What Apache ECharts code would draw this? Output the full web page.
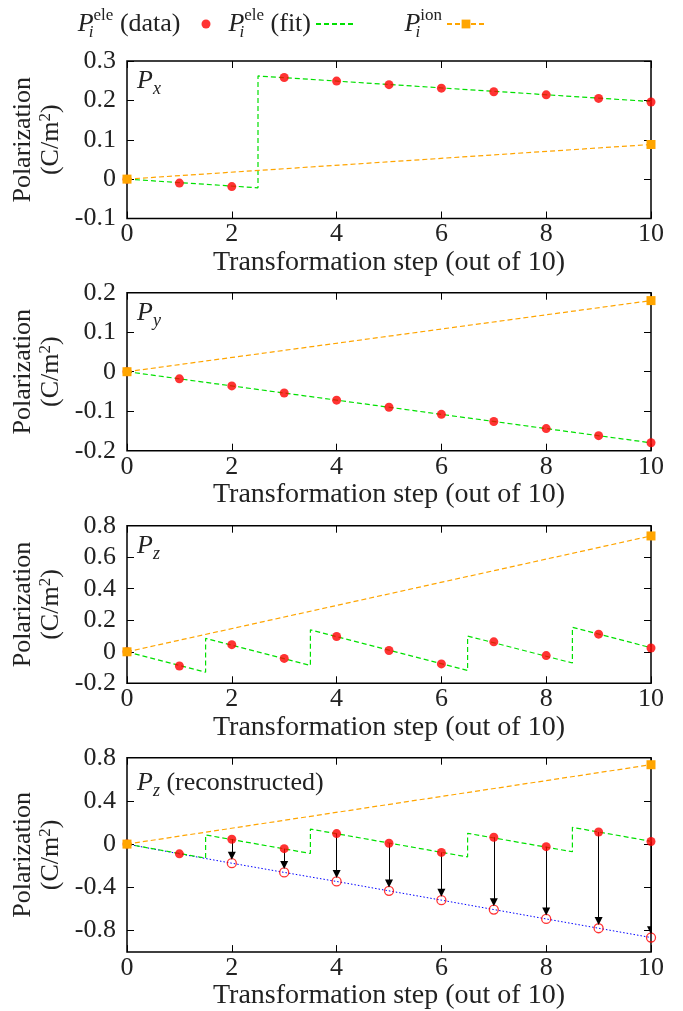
<!DOCTYPE html>
<html><head><meta charset="utf-8">
<script src="https://cdn.jsdelivr.net/npm/echarts@6/dist/echarts.min.js"></script>
<style>html,body{margin:0;padding:0;background:#fff}#c{width:683px;height:1011px}</style>
</head><body><div id="c"></div>
<script>
// ---------------- data ----------------
const steps = [0, 1, 2, 3, 4, 5, 6, 7, 8, 9, 10];
const xTickLabels = ['0', '2', '4', '6', '8', '10'];
const ionSteps = [0, 10];

// Panel 1 : P_x
const pxEle = [0, -0.010, -0.019, 0.258, 0.249, 0.240, 0.231, 0.222, 0.214, 0.205, 0.196];
const pxFitX = [0, 2.5, 2.5, 10];
const pxFitY = [0, -0.022, 0.262, 0.197];
const pxIon = [0, 0.088];

// Panel 2 : P_y
const pyEle = [0, -0.018, -0.036, -0.054, -0.072, -0.090, -0.108, -0.126, -0.144, -0.162, -0.180];
const pyFitX = [0, 10];
const pyFitY = [0, -0.180];
const pyIon = [0, 0.180];

// Panel 3/4 : P_z
const pzEle = [0, -0.090, 0.045, -0.042, 0.097, 0.008, -0.077, 0.063, -0.024, 0.112, 0.024];
const pzFitX = [0, 1.5, 1.5, 3.5, 3.5, 6.5, 6.5, 8.5, 8.5, 10];
const pzFitY = [0, -0.130, 0.085, -0.087, 0.139, -0.119, 0.100, -0.071, 0.155, 0.026];
const pzIon = [0, 0.735];
// Panel 4 : reconstructed
const pzRecon = [0, -0.090, -0.177, -0.262, -0.346, -0.433, -0.519, -0.606, -0.693, -0.779, -0.865];
const arrowSteps = [2, 3, 4, 5, 6, 7, 8, 9, 10];

// y tick labels
const yTicks1 = ['0.3', '0.2', '0.1', '0', '-0.1'];
const yTicks2 = ['0.2', '0.1', '0', '-0.1', '-0.2'];
const yTicks3 = ['0.8', '0.6', '0.4', '0.2', '0', '-0.2'];
const yTicks4 = ['0.8', '0.4', '0', '-0.4', '-0.8'];

// ---------------- style ----------------
const F = 'Liberation Serif';
const TXT = '#222';
const RED = '#ff0000';
const GREEN = '#00e000';
const ORANGE = '#ffa500';
const BLUE = '#0000ff';

const richBase = {
  P: { fontFamily: F, fontStyle: 'italic', fontWeight: 'normal', fontSize: 26, lineHeight: 34, color: TXT },
  sub: { fontFamily: F, fontStyle: 'italic', fontWeight: 'normal', fontSize: 18, lineHeight: 20, verticalAlign: 'bottom', color: TXT },
  si: { fontFamily: F, fontStyle: 'italic', fontWeight: 'normal', fontSize: 17, lineHeight: 17, verticalAlign: 'bottom', width: 0, color: TXT },
  sp: { fontFamily: F, fontWeight: 'normal', fontSize: 17, lineHeight: 19, verticalAlign: 'top', color: TXT },
  t: { fontFamily: F, fontWeight: 'normal', fontSize: 26, lineHeight: 34, color: TXT },
  g: { fontFamily: F, fontWeight: 'normal', fontSize: 26, lineHeight: 34, width: 16, color: TXT }
};

const panels = [
  { top: 61, height: 157.5, min: -0.1, max: 0.3, ticks: yTicks1, label: '{P|P}{sub|x}' },
  { top: 292.7, height: 158, min: -0.2, max: 0.2, ticks: yTicks2, label: '{P|P}{sub|y}' },
  { top: 525.7, height: 157.6, min: -0.2, max: 0.8, ticks: yTicks3, label: '{P|P}{sub|z}' },
  { top: 757.7, height: 200, min: -1.0, max: 0.8, ticks: yTicks4, label: '{P|P}{sub|z}{t| (reconstructed)}' }
];

const grids = [], xAxes = [], yAxes = [], titles = [];
const xVals = xTickLabels.map(Number);
panels.forEach((p, gi) => {
  grids.push({ left: 127, right: 32, top: p.top, height: p.height, show: true,
    borderColor: '#000', borderWidth: 1.5, backgroundColor: 'transparent' });
  const yVals = p.ticks.map(Number);
  const tick = { show: true, inside: true, length: 7, lineStyle: { color: '#000', width: 1 } };
  const line = { show: false, onZero: false };
  xAxes.push({ gridIndex: gi, type: 'value', min: 0, max: 10, position: 'bottom',
    axisLine: line, splitLine: { show: false },
    axisTick: Object.assign({ customValues: xVals }, tick),
    axisLabel: { customValues: xVals, margin: 3, fontFamily: F, fontSize: 26, color: TXT },
    name: 'Transformation step (out of 10)', nameLocation: 'middle', nameGap: 25,
    nameTextStyle: { fontFamily: F, fontSize: 28, color: TXT } });
  xAxes.push({ gridIndex: gi, type: 'value', min: 0, max: 10, position: 'top',
    axisLine: line, splitLine: { show: false },
    axisTick: Object.assign({ customValues: xVals }, tick),
    axisLabel: { show: false } });
  yAxes.push({ gridIndex: gi, type: 'value', min: p.min, max: p.max, position: 'left',
    axisLine: line, splitLine: { show: false },
    axisTick: Object.assign({ customValues: yVals }, tick),
    axisLabel: { customValues: yVals, margin: 11, fontFamily: F, fontSize: 26, color: TXT,
      formatter: v => p.ticks[yVals.indexOf(v)] !== undefined ? p.ticks[yVals.indexOf(v)] : String(v) },
    name: '{t|Polarization}\n{t|(C/m}{sp|2}{t|)}', nameLocation: 'middle', nameGap: 60, nameRotate: 90,
    nameTextStyle: { fontFamily: F, fontSize: 26, color: TXT,
      rich: { t: { fontFamily: F, fontSize: 26, lineHeight: 28, color: TXT },
              sp: { fontFamily: F, fontSize: 17, lineHeight: 15, verticalAlign: 'top', color: TXT } } } });
  yAxes.push({ gridIndex: gi, type: 'value', min: p.min, max: p.max, position: 'right',
    axisLine: line, splitLine: { show: false },
    axisTick: Object.assign({ customValues: yVals }, tick),
    axisLabel: { show: false } });
  titles.push({ text: p.label, left: 137, top: p.top + 0.123 * p.height - 16.3, padding: 0,
    textStyle: { fontWeight: 'normal', rich: richBase } });
});

const pairs = (xs, ys) => xs.map((x, k) => [x, ys[k]]);
function fitSeries(gi, xs, ys) {
  return { type: 'line', name: 'fit', xAxisIndex: 2 * gi, yAxisIndex: 2 * gi, data: pairs(xs, ys),
    symbol: 'none', clip: false, lineStyle: { color: GREEN, width: 1.2, type: [5, 3] },
    itemStyle: { color: GREEN }, z: 3 };
}
function dataSeries(gi, ys) {
  return { type: 'scatter', name: 'data', xAxisIndex: 2 * gi, yAxisIndex: 2 * gi, data: pairs(steps, ys),
    symbol: 'circle', symbolSize: 9, clip: false, itemStyle: { color: RED }, z: 5 };
}
function ionSeries(gi, ys) {
  return { type: 'line', name: 'ion', xAxisIndex: 2 * gi, yAxisIndex: 2 * gi, data: pairs(ionSteps, ys),
    symbol: 'rect', symbolSize: 9, showAllSymbol: true, clip: false,
    lineStyle: { color: ORANGE, width: 1.2, type: [5, 3] }, itemStyle: { color: ORANGE }, z: 6 };
}

const ARROW_BACK = 0.068; // arrow head centre sits just above the open circle
const series = [
  fitSeries(0, pxFitX, pxFitY), dataSeries(0, pxEle), ionSeries(0, pxIon),
  fitSeries(1, pyFitX, pyFitY), dataSeries(1, pyEle), ionSeries(1, pyIon),
  fitSeries(2, pzFitX, pzFitY), dataSeries(2, pzEle), ionSeries(2, pzIon),
  { type: 'line', name: 'recon line', xAxisIndex: 6, yAxisIndex: 6, data: pairs(steps, pzRecon),
    symbol: 'none', clip: false, lineStyle: { color: BLUE, width: 1, type: [1.5, 2] }, z: 2 },
  { type: 'scatter', name: 'recon', xAxisIndex: 6, yAxisIndex: 6,
    data: arrowSteps.map(s => [s, pzRecon[s]]), symbol: 'circle', symbolSize: 9, clip: false,
    itemStyle: { color: 'rgba(255,255,255,0)', borderColor: RED, borderWidth: 1.3 }, z: 3 },
  fitSeries(3, pzFitX, pzFitY),
  { type: 'lines', coordinateSystem: 'cartesian2d', xAxisIndex: 6, yAxisIndex: 6,
    data: arrowSteps.map(s => ({ coords: [[s, pzEle[s]], [s, pzRecon[s] + ARROW_BACK]] })),
    symbol: ['none', 'triangle'], symbolSize: [0, 8],
    lineStyle: { color: '#000', width: 1, opacity: 1 }, z: 4 },
  dataSeries(3, pzEle), ionSeries(3, pzIon)
];

const legendCommon = { top: 7, padding: 0, align: 'right', itemGap: 0, selectedMode: false,
  textStyle: { fontFamily: F, fontSize: 26, color: TXT, rich: richBase } };
const legends = [
  Object.assign({}, legendCommon, { data: ['data'], right: 472.5, itemWidth: 9, itemHeight: 9,
    formatter: () => '{P|P}{si|i}{sp|ele}{t| (data)}{g| }' }),
  Object.assign({}, legendCommon, { data: ['fit'], right: 328, itemWidth: 38, itemHeight: 11,
    itemStyle: { color: 'rgba(0,0,0,0)', borderWidth: 0, opacity: 0 },
    formatter: () => '{P|P}{si|i}{sp|ele}{t| (fit)}' }),
  Object.assign({}, legendCommon, { data: ['ion'], right: 197, itemWidth: 38, itemHeight: 11,
    formatter: () => '{P|P}{si|i}{sp|ion}' })
];

const chart = echarts.init(document.getElementById('c'));
chart.setOption({
  animation: false,
  backgroundColor: '#fff',
  title: titles,
  legend: legends,
  grid: grids,
  xAxis: xAxes,
  yAxis: yAxes,
  series: series
});
</script></body></html>
